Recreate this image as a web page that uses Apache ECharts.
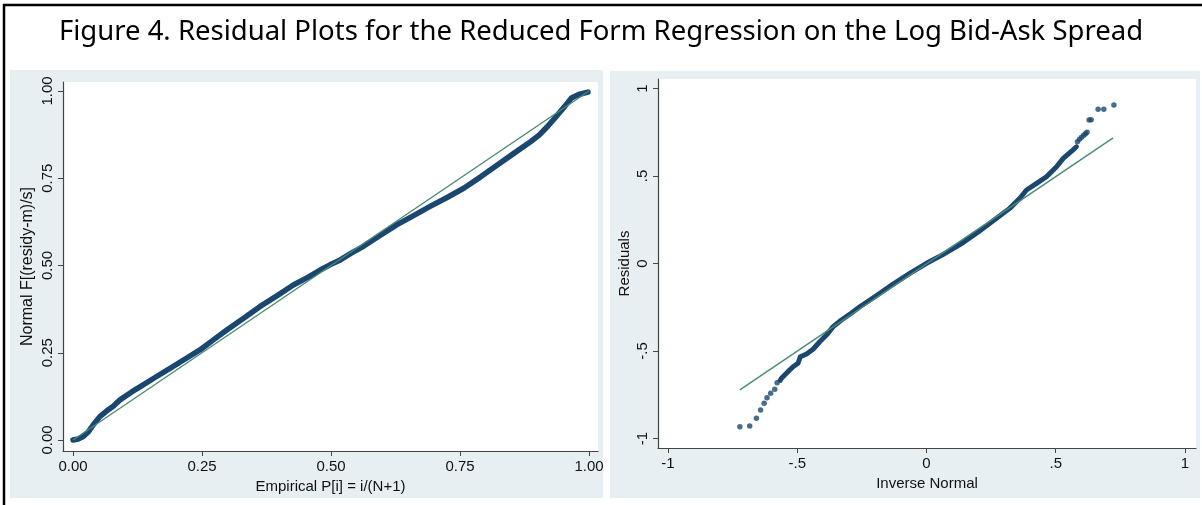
<!DOCTYPE html>
<html>
<head>
<meta charset="utf-8">
<title>Figure 4</title>
<script src="https://cdn.jsdelivr.net/npm/echarts@6/dist/echarts.min.js"></script>
<style>
  html, body { margin: 0; padding: 0; background: #fff; }
  #chart { width: 1202px; height: 505px; }
</style>
</head>
<body>
<div id="chart"></div>
<script>
  // left panel: normal probability plot (pnorm)
  const ppEmpirical = [0, 0.01, 0.02, 0.03, 0.039, 0.052, 0.065, 0.078, 0.091, 0.113, 0.136, 0.162, 0.188, 0.215,
    0.246, 0.272, 0.298, 0.33, 0.362, 0.395, 0.427, 0.455, 0.479, 0.498, 0.518, 0.54, 0.563, 0.595, 0.628, 0.66,
    0.693, 0.725, 0.758, 0.79, 0.823, 0.855, 0.888, 0.905, 0.92, 0.937, 0.953, 0.966, 0.98, 0.998];
  const ppNormal = [0, 0.003, 0.01, 0.024, 0.043, 0.067, 0.083, 0.097, 0.115, 0.137, 0.158, 0.182, 0.205, 0.23,
    0.258, 0.287, 0.315, 0.348, 0.382, 0.413, 0.444, 0.466, 0.487, 0.502, 0.516, 0.536, 0.555, 0.586, 0.617, 0.643,
    0.67, 0.695, 0.722, 0.754, 0.789, 0.822, 0.856, 0.876, 0.899, 0.928, 0.956, 0.98, 0.99, 0.997];
  const ppRefLine = [[0, 0], [1, 1]];
  const ppTicks = [0, 0.25, 0.5, 0.75, 1];

  // right panel: quantile plot (qnorm)
  const qqLowX = [-0.722, -0.684, -0.658, -0.642, -0.628, -0.617, -0.603, -0.587, -0.578];
  const qqLowY = [-0.933, -0.929, -0.885, -0.837, -0.799, -0.767, -0.742, -0.719, -0.681];
  const qqBodyX = [-0.566, -0.561, -0.536, -0.516, -0.497, -0.488, -0.464, -0.439, -0.413, -0.387, -0.361, -0.329,
    -0.29, -0.258, -0.2, -0.129, -0.06, 0, 0.06, 0.142, 0.2, 0.271, 0.322, 0.361, 0.387, 0.426, 0.464, 0.503,
    0.529, 0.567, 0.58];
  const qqBodyY = [-0.668, -0.656, -0.618, -0.59, -0.57, -0.533, -0.517, -0.49, -0.447, -0.409, -0.361, -0.323,
    -0.283, -0.247, -0.19, -0.118, -0.052, 0.001, 0.048, 0.12, 0.18, 0.258, 0.315, 0.373, 0.42, 0.458, 0.496, 0.553,
    0.601, 0.649, 0.667];
  const qqHighX = [0.584, 0.592, 0.6, 0.608, 0.615, 0.621, 0.629, 0.637, 0.664, 0.686, 0.725];
  const qqHighY = [0.696, 0.71, 0.722, 0.733, 0.742, 0.75, 0.82, 0.822, 0.881, 0.881, 0.906];
  const qqRefLine = [[-0.722, -0.722], [0.722, 0.718]];
  const qqTicks = [-1, -0.5, 0, 0.5, 1];

  const navy = '#1a476f';
  const refGreen = '#4a8a74';
  const panelBg = '#e8eff2';
  const axisColor = '#444';
  const labelFont = 'Liberation Sans, Arial, sans-serif';

  const zip = (xs, ys) => xs.map((x, i) => [x, ys[i]]);
  const stataNum = v => (v === 0 ? '0' : String(v).replace('0.', '.'));

  const baseAxis = (ticks, fmt, rotate) => ({
    type: 'value',
    nameLocation: 'middle',
    nameTextStyle: { fontFamily: labelFont, fontSize: 15, color: '#111' },
    axisLine: { show: true, onZero: false, lineStyle: { color: axisColor, width: 1.2 } },
    axisTick: { show: true, length: 5, customValues: ticks, lineStyle: { color: axisColor } },
    axisLabel: {
      customValues: ticks,
      formatter: fmt,
      rotate: rotate,
      margin: 8,
      fontFamily: labelFont,
      fontSize: 15,
      color: '#111'
    },
    splitLine: { show: false }
  });

  const chart = echarts.init(document.getElementById('chart'));
  chart.setOption({
    animation: false,
    backgroundColor: '#fff',
    title: {
      text: 'Figure 4. Residual Plots for the Reduced Form Regression on the Log Bid-Ask Spread',
      left: 'center',
      top: 13,
      textStyle: { fontFamily: 'Noto Sans', fontSize: 27.5, fontWeight: 'normal', color: '#000' }
    },
    graphic: [
      { type: 'rect', z: -10, shape: { x: 4, y: 5, width: 1220, height: 600 },
        style: { fill: '#fff', stroke: '#000', lineWidth: 2.5 } },
      { type: 'rect', z: -9, shape: { x: 10, y: 70, width: 593, height: 428 }, style: { fill: panelBg } },
      { type: 'rect', z: -9, shape: { x: 610, y: 71, width: 590, height: 427 }, style: { fill: panelBg } },
      { type: 'rect', z: -8, shape: { x: 63, y: 82, width: 535, height: 369 }, style: { fill: '#fff' } },
      { type: 'rect', z: -8, shape: { x: 658, y: 79, width: 538, height: 369 }, style: { fill: '#fff' } }
    ],
    grid: [
      { left: 63, top: 82, width: 535, height: 369 },
      { left: 658, top: 79, width: 538, height: 369 }
    ],
    xAxis: [
      Object.assign(baseAxis(ppTicks, v => v.toFixed(2), 0), {
        gridIndex: 0, min: -0.01938, max: 1.01744, name: 'Empirical P[i] = i/(N+1)', nameGap: 24
      }),
      Object.assign(baseAxis(qqTicks, stataNum, 0), {
        gridIndex: 1, min: -1.0387, max: 1.0426, name: 'Inverse Normal', nameGap: 25
      })
    ],
    yAxis: [
      Object.assign(baseAxis(ppTicks, v => v.toFixed(2), 90), {
        gridIndex: 0, min: -0.0315, max: 1.0258, name: 'Normal F[(residy-m)/s]', nameGap: 27,
        nameTextStyle: { fontFamily: labelFont, fontSize: 16, color: '#111' }
      }),
      Object.assign(baseAxis(qqTicks, stataNum, 90), {
        gridIndex: 1, min: -1.0543, max: 1.0543, name: 'Residuals', nameGap: 26
      })
    ],
    series: [
      {
        type: 'line', xAxisIndex: 0, yAxisIndex: 0, data: zip(ppEmpirical, ppNormal),
        showSymbol: false, lineStyle: { color: navy, width: 5.5, cap: 'round', join: 'round' }, z: 3
      },
      {
        type: 'line', xAxisIndex: 0, yAxisIndex: 0, data: ppRefLine,
        showSymbol: false, lineStyle: { color: refGreen, width: 1.4 }, z: 4
      },
      {
        type: 'line', xAxisIndex: 1, yAxisIndex: 1, data: zip(qqBodyX, qqBodyY),
        showSymbol: false, lineStyle: { color: navy, width: 5, cap: 'round', join: 'round' }, z: 3
      },
      {
        type: 'scatter', xAxisIndex: 1, yAxisIndex: 1, data: zip(qqLowX, qqLowY).concat(zip(qqHighX, qqHighY)),
        symbolSize: 5.5, itemStyle: { color: navy }, z: 3
      },
      {
        type: 'line', xAxisIndex: 1, yAxisIndex: 1, data: qqRefLine,
        showSymbol: false, lineStyle: { color: refGreen, width: 1.4 }, z: 4
      }
    ]
  });
</script>
</body>
</html>
